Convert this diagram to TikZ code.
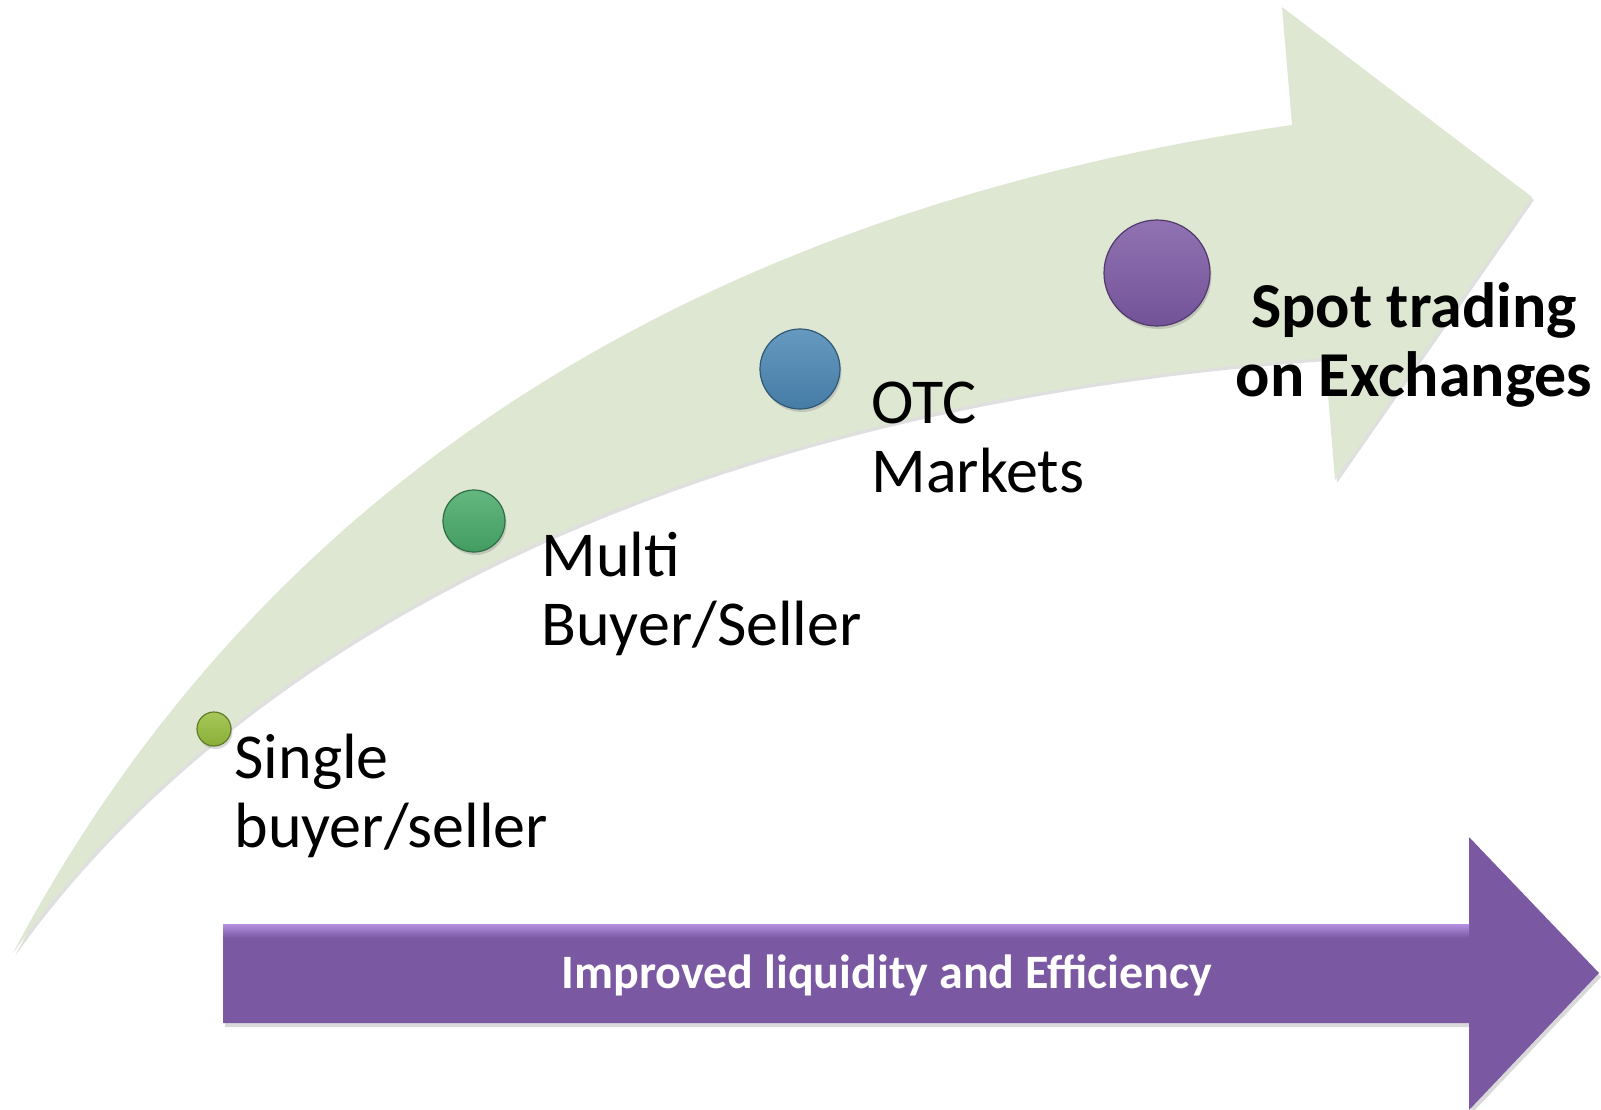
\documentclass[tikz,border=0pt]{standalone}
\usepackage{fontspec}
\setmainfont{Carlito}
\usetikzlibrary{shadows}
\definecolor{bandgreen}{RGB}{221,231,210}
\definecolor{singlegreen}{RGB}{150,190,60}
\definecolor{multigreen}{RGB}{72,170,105}
\definecolor{otcblue}{RGB}{75,135,180}
\definecolor{spotpurple}{RGB}{125,90,165}
\definecolor{barpurple}{RGB}{122,88,162}
\definecolor{barlight}{RGB}{180,145,225}

\begin{document}
\begin{tikzpicture}[
        x=1pt, y=-1pt,
        ball/.style={circle, inner sep=0pt, draw=#1!65!black, line width=1.2pt,
            top color=#1!85!white, bottom color=#1!92!black,
            drop shadow={opacity=0.3, shadow xshift=1.5pt, shadow yshift=-3pt}},
        steplabel/.style={anchor=base west, align=left, font=\fontsize{64}{69}\selectfont},
        spotlabel/.style={anchor=base, align=center, font=\bfseries\fontsize{64}{69}\selectfont}
    ]
        % Page
        \useasboundingbox (0,0) rectangle (1601,1109);
        % Curved arrow
        \fill[bandgreen, drop shadow={opacity=0.25, shadow xshift=2pt, shadow yshift=-3pt}]
            (13,953) .. controls (200,600) and (560,230) .. (1292,125)
            -- (1282,7) -- (1532,197) -- (1335,480) -- (1325,358)
            .. controls (600,410) and (200,690) .. cycle;
        % Straight arrow
        \fill[barpurple, drop shadow={opacity=0.3, shadow xshift=2pt, shadow yshift=-4pt}]
            (223,924) -- (1469,924) -- (1469,837) -- (1599,973) -- (1469,1110)
            -- (1469,1023) -- (223,1023) -- cycle;
        \shade[top color=barlight, bottom color=barpurple] (223,924) rectangle (1469,938);
        \node[anchor=base, text=white, font=\bfseries\fontsize{48}{60}\selectfont] (gain) at (887,988)
            {Improved liquidity and Efficiency};
        % Stages
        \node[ball=singlegreen, minimum size=34pt] (single) at (214,729) {};
        \node[ball=multigreen, minimum size=62pt] (multi) at (474,521) {};
        \node[ball=otcblue, minimum size=80pt] (otc) at (800,369) {};
        \node[ball=spotpurple, minimum size=106pt] (spot) at (1157,273) {};
        % Labels (base = last line)
        \node[steplabel] (singlelabel) at (231,847) {Single\\buyer/seller};
        \node[steplabel] (multilabel) at (538,645) {Multi\\Buyer/Seller};
        \node[steplabel] (otclabel) at (868,492) {OTC\\Markets};
        \node[spotlabel] (spottext) at (1414,396) {Spot trading\\on Exchanges};
    \end{tikzpicture}
\end{document}
